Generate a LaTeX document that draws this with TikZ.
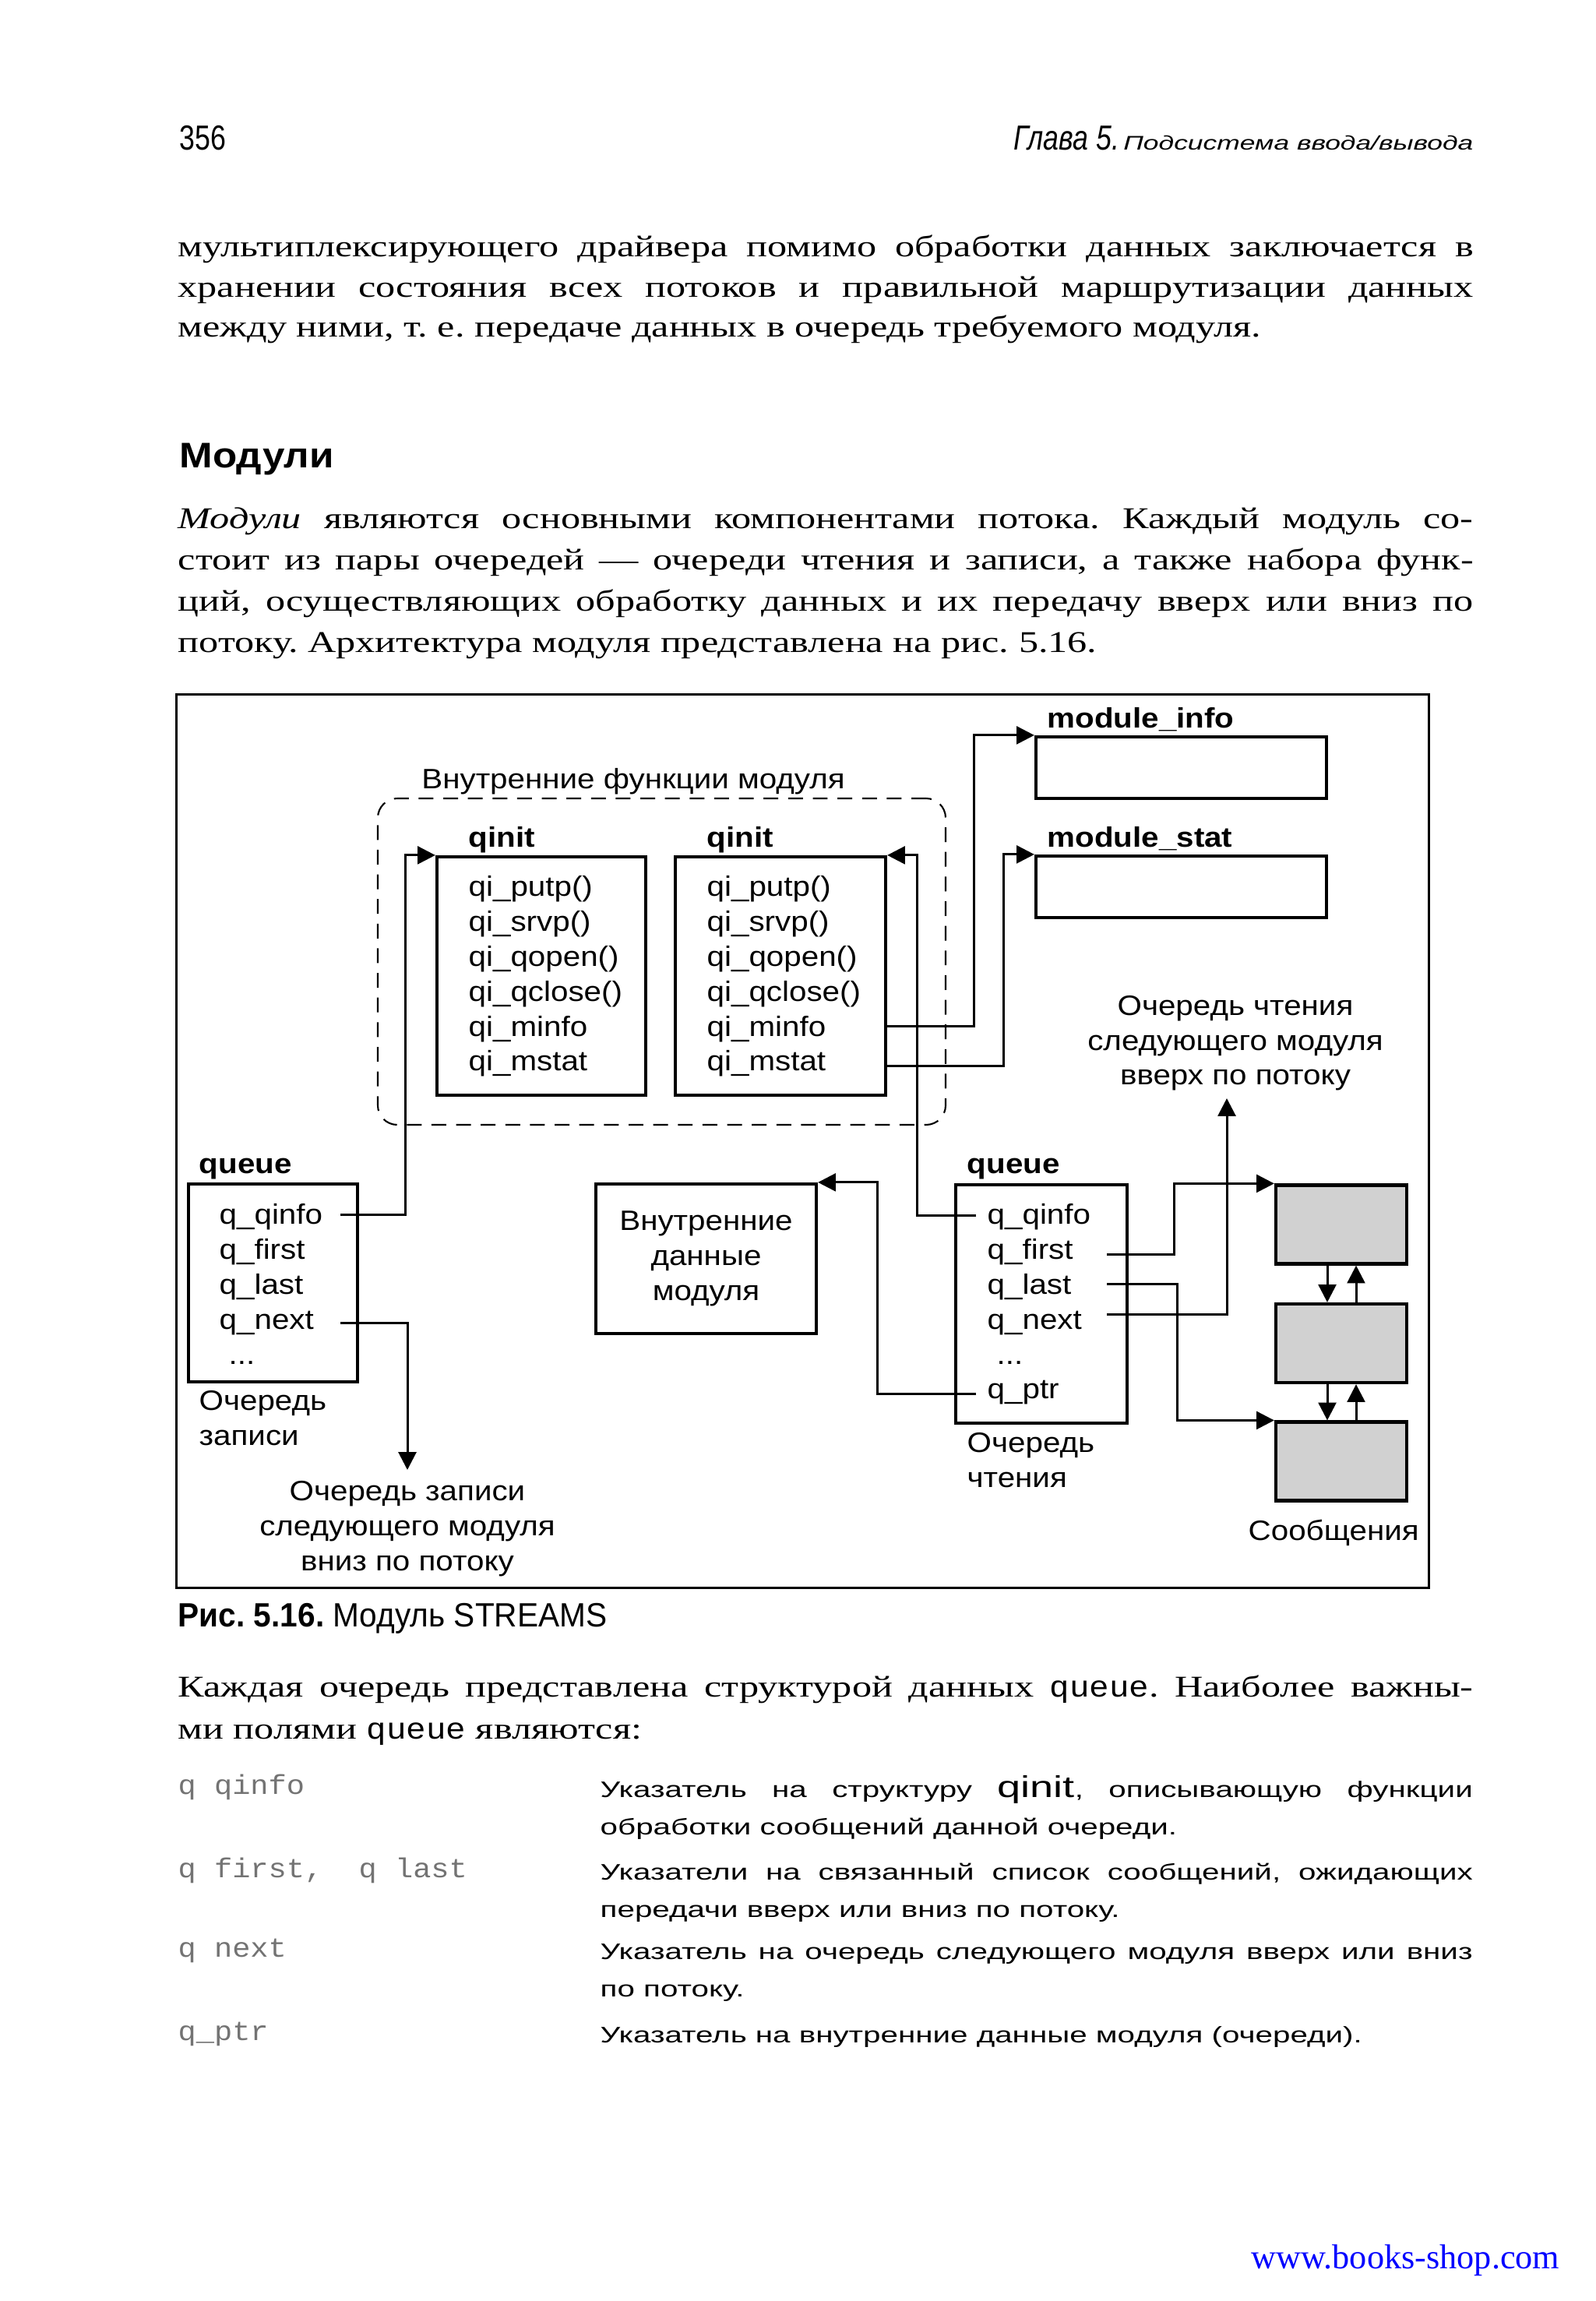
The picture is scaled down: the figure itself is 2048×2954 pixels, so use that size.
\documentclass[tikz,border=0pt]{standalone}
\usepackage{fontspec}
\usepackage{tikz}
\usetikzlibrary{arrows.meta,positioning}
\newfontfamily\bodyfont{Liberation Serif}[FakeStretch=1.3]
\newfontfamily\diafont{Liberation Sans}[FakeStretch=1.12]
\newfontfamily\narrowfont{Liberation Sans}[FakeStretch=0.8]
\newfontfamily\capfont{Liberation Sans}[FakeStretch=0.94]
\newfontfamily\widefont{Liberation Sans}[FakeStretch=1.4]
\newfontfamily\codefont{Liberation Mono}[FakeStretch=1.1]
\newfontfamily\urlfont{Liberation Serif}
\newcommand{\fullline}[1]{\makebox[166.3mm][s]{#1}}
\newcommand{\tabline}[1]{\makebox[112mm][s]{#1}}
\frenchspacing

\begin{document}
\begin{tikzpicture}[x=0.1mm, y=-0.1mm, >={Triangle[length=6.5pt,width=6.5pt]},
  box/.style={draw, line width=1.2pt, inner sep=0pt},
  wire/.style={line width=0.85pt},
  dia/.style={inner sep=0pt, font=\diafont\fontsize{10.25}{12.75}\selectfont},
  diab/.style={inner sep=0pt, anchor=base west,
    font=\diafont\bfseries\fontsize{10.25}{12.75}\selectfont},
  bodyline/.style={anchor=base west, inner sep=0pt,
    font=\bodyfont\fontsize{11}{13}\selectfont},
  descline/.style={anchor=base west, inner sep=0pt,
    font=\widefont\fontsize{8.2}{10}\selectfont},
  codeline/.style={anchor=base west, inner sep=0pt, text=black!55,
    font=\codefont\fontsize{10}{12}\selectfont}]
  \fill[white] (0,0) rectangle (2048,2954);
  \useasboundingbox (0,0) rectangle (2048,2954);

  \node[anchor=base west, inner sep=0pt, font=\narrowfont\fontsize{12.7}{15}\selectfont]
    (pagenum) at (230,193) {356};
  \node[anchor=base west, inner sep=0pt, font=\narrowfont\itshape\fontsize{12.7}{15}\selectfont]
    (chapnum) at (1301,193) {Глава 5.};
  \node[anchor=base east, inner sep=0pt, font=\widefont\itshape\fontsize{7.2}{9}\selectfont]
    (chapname) at (1892,193) {Подсистема ввода/вывода};

  \node[bodyline] (par1a) at (228,330)
    {\fullline{мультиплексирующего драйвера помимо обработки данных заключается в}};
  \node[bodyline] (par1b) at (228,382)
    {\fullline{хранении состояния всех потоков и правильной маршрутизации данных}};
  \node[bodyline] (par1c) at (228,433)
    {между ними, т. е. передаче данных в очередь требуемого модуля.};

  \node[anchor=base west, inner sep=0pt, font=\diafont\bfseries\fontsize{13}{15}\selectfont]
    (heading) at (230,600) {Модули};

  \node[bodyline] (par2a) at (228,678)
    {\fullline{\textit{Модули} являются основными компонентами потока. Каждый модуль со-}};
  \node[bodyline] (par2b) at (228,731)
    {\fullline{стоит из пары очередей — очереди чтения и записи, а также набора функ-}};
  \node[bodyline] (par2c) at (228,784)
    {\fullline{ций, осуществляющих обработку данных и их передачу вверх или вниз по}};
  \node[bodyline] (par2d) at (228,837)
    {потоку. Архитектура модуля представлена на рис. 5.16.};

  \node[draw, line width=0.85pt, inner sep=0pt, minimum width=160.8mm,
    minimum height=114.7mm] (frame) at (1030,1464.5) {};

  \node[dia, anchor=base] (functitle) at (813,1012) {Внутренние функции модуля};
  \node[draw, dash pattern=on 5.4pt off 3.6pt, line width=0.6pt, rounded corners=2.5mm,
    minimum width=72.9mm, minimum height=41.9mm] (funcs) at (849.5,1234.5) {};

  \node[box, minimum width=26.8mm, minimum height=30.6mm] (lqinit) at (695,1253) {};
  \node[box, minimum width=27mm, minimum height=30.6mm] (rqinit) at (1002,1253) {};
  \node[diab] (lqinitname) at (601,1087) {qinit};
  \node[diab] (rqinitname) at (907,1087) {qinit};
  \node[dia, anchor=north west, align=left] (lqilist) at (601,1124)
    {qi\_putp()\\qi\_srvp()\\qi\_qopen()\\qi\_qclose()\\qi\_minfo\\qi\_mstat};
  \node[dia, anchor=north west, align=left] (rqilist) at (907,1124)
    {qi\_putp()\\qi\_srvp()\\qi\_qopen()\\qi\_qclose()\\qi\_minfo\\qi\_mstat};

  \node[box, minimum width=37.3mm, minimum height=7.9mm] (minfobox) at (1516.5,985.5) {};
  \node[box, minimum width=37.3mm, minimum height=7.9mm] (mstatbox) at (1516.5,1138.5) {};
  \node[diab] (minfoname) at (1344,934) {module\_info};
  \node[diab] (mstatname) at (1344,1087) {module\_stat};

  \node[dia, anchor=south, align=center, inner ysep=0.9mm] (upnext) at (1586,1410)
    {Очередь чтения\\следующего модуля\\вверх по потоку};

  \node[box, minimum width=21.7mm, minimum height=25.4mm] (lqueue) at (350.5,1647) {};
  \node[diab] (lqueuename) at (255,1506) {queue};
  \node[dia, anchor=north west, align=left] (lfields) at (281,1545)
    {q\_qinfo\\q\_first\\q\_last\\q\_next\\\hspace*{1.2mm}...};
  \node[dia, anchor=north west, align=left] (lqueuecap) at (255,1785) {Очередь\\записи};
  \node[dia, anchor=north, align=center, inner xsep=0pt, inner ysep=1.4mm] (downnext)
    at (523,1887) {Очередь записи\\следующего модуля\\вниз по потоку};

  \node[box, dia, minimum width=28.3mm, minimum height=19.2mm, align=center] (intdata)
    at (906.5,1616) {Внутренние\\данные\\модуля};

  \node[box, minimum width=22mm, minimum height=30.6mm] (rqueue) at (1337,1674) {};
  \node[diab] (rqueuename) at (1241,1506) {queue};
  \node[dia, anchor=north west, align=left] (rfields) at (1267,1545)
    {q\_qinfo\\q\_first\\q\_last\\q\_next\\\hspace*{1.2mm}...\\q\_ptr};
  \node[dia, anchor=north west, align=left] (rqueuecap) at (1241,1839) {Очередь\\чтения};

  \node[box, fill=black!18, minimum width=16.8mm, minimum height=10.1mm] (msg1) at (1722,1572) {};
  \node[box, fill=black!18, minimum width=16.8mm, minimum height=10.1mm] (msg2) at (1722,1724.5) {};
  \node[box, fill=black!18, minimum width=16.8mm, minimum height=10.1mm] (msg3) at (1722,1876) {};
  \node[dia, anchor=base west] (msgname) at (1602,1977) {Сообщения};

  \coordinate (minfo) at (1137,1317);
  \coordinate (mstat) at (1137,1368);
  \coordinate (lqinfo) at (437,1559);
  \coordinate (lnext) at (437,1698);
  \coordinate (rqinfo) at (1253,1560);
  \coordinate (rfirst) at (1421,1610);
  \coordinate (rlast) at (1421,1648);
  \coordinate (rnext) at (1421,1687);
  \coordinate (rptr) at (1253,1789);

  \draw[wire, ->] (lqinfo) -| ([xshift=-3.8mm]lqinit.north west) -- (lqinit.north west);
  \draw[wire, ->] (rqinfo) -| ([xshift=3.8mm]rqinit.north east) -- (rqinit.north east);
  \draw[wire, ->] (minfo) -| ([xshift=-7.7mm]minfobox.north west) -- (minfobox.north west);
  \draw[wire, ->] (mstat) -| ([xshift=-3.9mm]mstatbox.north west) -- (mstatbox.north west);
  \draw[wire, ->] (lnext) -| (downnext.north);
  \draw[wire, ->] (rnext) -| ([xshift=-1.1mm]upnext.south);
  \draw[wire, ->] (rptr) -| ([xshift=7.6mm]intdata.north east) -- (intdata.north east);
  \draw[wire, ->] (rfirst) -| ([xshift=-12.8mm]msg1.north west) -- (msg1.north west);
  \draw[wire, ->] (rlast) -| ([xshift=-12.4mm]msg3.north west) -- (msg3.north west);
  \draw[wire, ->] ([xshift=-1.8mm]msg1.south) -- ([xshift=-1.8mm]msg2.north);
  \draw[wire, ->] ([xshift=1.9mm]msg2.north) -- ([xshift=1.9mm]msg1.south);
  \draw[wire, ->] ([xshift=-1.8mm]msg2.south) -- ([xshift=-1.8mm]msg3.north);
  \draw[wire, ->] ([xshift=1.9mm]msg3.north) -- ([xshift=1.9mm]msg2.south);

  \node[anchor=base west, inner sep=0pt, font=\capfont\fontsize{12.3}{15}\selectfont]
    (caption) at (228,2088) {\textbf{Рис. 5.16.} Модуль STREAMS};

  \node[bodyline] (par3a) at (228,2178)
    {\fullline{Каждая очередь представлена структурой данных {\codefont queue}. Наиболее важны-}};
  \node[bodyline] (par3b) at (228,2232) {ми полями {\codefont queue} являются:};

  \node[codeline] (qinfoname) at (228,2303) {q qinfo};
  \node[descline] (qinfodesca) at (770,2307)
    {\tabline{Указатель на структуру {\fontsize{11}{13}\selectfont qinit}, описывающую функции}};
  \node[descline] (qinfodescb) at (770,2355) {обработки сообщений данной очереди.};
  \node[codeline] (firstname) at (228,2410) {q first,~~q last};
  \node[descline] (firstdesca) at (770,2413)
    {\tabline{Указатели на связанный список сообщений, ожидающих}};
  \node[descline] (firstdescb) at (770,2461) {передачи вверх или вниз по потоку.};
  \node[codeline] (nextname) at (228,2512) {q next};
  \node[descline] (nextdesca) at (770,2515)
    {\tabline{Указатель на очередь следующего модуля вверх или вниз}};
  \node[descline] (nextdescb) at (770,2563) {по потоку.};
  \node[codeline] (ptrname) at (228,2619) {q\_ptr};
  \node[descline] (ptrdesc) at (770,2622) {Указатель на внутренние данные модуля (очереди).};

  \node[anchor=base east, inner sep=0pt, text=blue, font=\urlfont\fontsize{12.6}{15}\selectfont]
    (url) at (2003,2912) {www.books-shop.com};
\end{tikzpicture}
\end{document}
